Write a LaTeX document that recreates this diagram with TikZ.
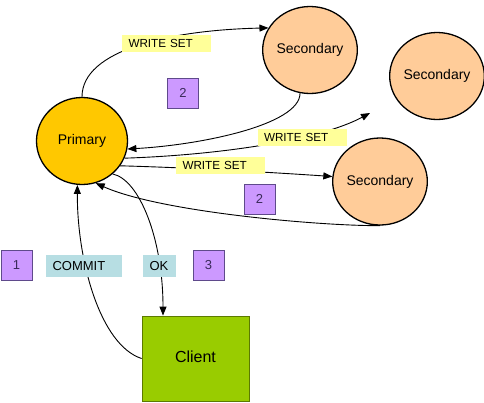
\documentclass[tikz,border=0pt]{standalone}
\usepackage{fontspec}
\setmainfont{Liberation Sans}
\usetikzlibrary{arrows.meta,shapes.geometric}
\definecolor{prim}{HTML}{FFC800}
\definecolor{sec}{HTML}{FFCC99}
\definecolor{cli}{HTML}{99CC00}
\definecolor{clidraw}{HTML}{5C7A00}
\definecolor{ylab}{HTML}{FFFF99}
\definecolor{blab}{HTML}{B7DEE3}
\definecolor{numfill}{HTML}{CC99FF}
\definecolor{numdraw}{HTML}{5F4A8B}
\definecolor{numtext}{HTML}{3A2A5A}
\tikzset{
  server/.style={ellipse, draw=black, line width=1.3pt, minimum width=91pt, minimum height=87pt, inner sep=0pt, font=\fontsize{14}{16}\selectfont},
  primnode/.style={server, fill=prim},
  secnode/.style={server, fill=sec},
  clientnode/.style={rectangle, draw=clidraw, line width=0.8pt, fill=cli, minimum width=107pt, minimum height=85pt, inner sep=0pt, font=\fontsize{16}{18}\selectfont},
  conn/.style={line width=0.9pt, draw=black},
  arr/.style={conn, -{Triangle[length=9pt,width=7pt]}},
  wslabel/.style={rectangle, fill=ylab, inner xsep=6.5pt, inner ysep=0pt, align=left, text width=76pt, minimum height=17pt, font=\fontsize{11.7}{13}\selectfont},
  bluelabel/.style={rectangle, fill=blab, inner xsep=6.5pt, inner ysep=0pt, align=left, minimum height=22pt, font=\fontsize{13}{15}\selectfont},
  numbox/.style={rectangle, draw=numdraw, line width=0.9pt, fill=numfill, minimum width=31pt, minimum height=30pt, inner sep=0pt, text=numtext, font=\fontsize{13}{15}\selectfont}
}
\begin{document}
\begin{tikzpicture}[x=1pt,y=-1pt]
\useasboundingbox (0,0) rectangle (484,402);
% servers
\node[primnode] (P) at (82,141) {Primary};
\node[secnode] (S1) at (310,50) {Secondary};
\node[secnode] (S2) at (437,76) {Secondary};
\node[secnode] (S3) at (380,181.5) {Secondary};
\node[clientnode] (C) at (195.5,358.5) {\raisebox{3pt}{Client}};
\coordinate (ws2end) at (370,113);
% connectors
\draw[arr] (P.north) .. controls (82,50) and (170,30) .. (S1.152);
\draw[arr] (S1.-103) .. controls (300,125) and (200,145) .. (P.-10);
\draw[arr] (P.-22) .. controls (220,155) and (320,140) .. (ws2end);
\draw[arr] (P.-33) .. controls (200,168) and (280,173) .. (S3.174);
\draw[arr] (S3.south) .. controls (320,226) and (160,212) .. (P.-72);
\draw[arr] (C.west) .. controls (100,345) and (77,260) .. (P.-96);
\draw[arr] (P.-47) .. controls (140,180) and (163,240) .. (C.north -| 163,316);
% labels
\node[wslabel] (ws1) at (166.5,43) {WRITE SET};
\node[wslabel] (ws2) at (302,137.5) {WRITE SET};
\node[wslabel] (ws3) at (220.5,165) {WRITE SET};
\node[bluelabel, text width=63pt] (commit) at (84,266) {COMMIT};
\node[bluelabel, text width=20pt] (ok) at (159.5,266) {OK};
\node[numbox] (n2a) at (183,93) {2};
\node[numbox] (n2b) at (259.5,199) {2};
\node[numbox] (n1) at (16.5,265.5) {1};
\node[numbox] (n3) at (208.5,265.5) {3};
\end{tikzpicture}
\end{document}
